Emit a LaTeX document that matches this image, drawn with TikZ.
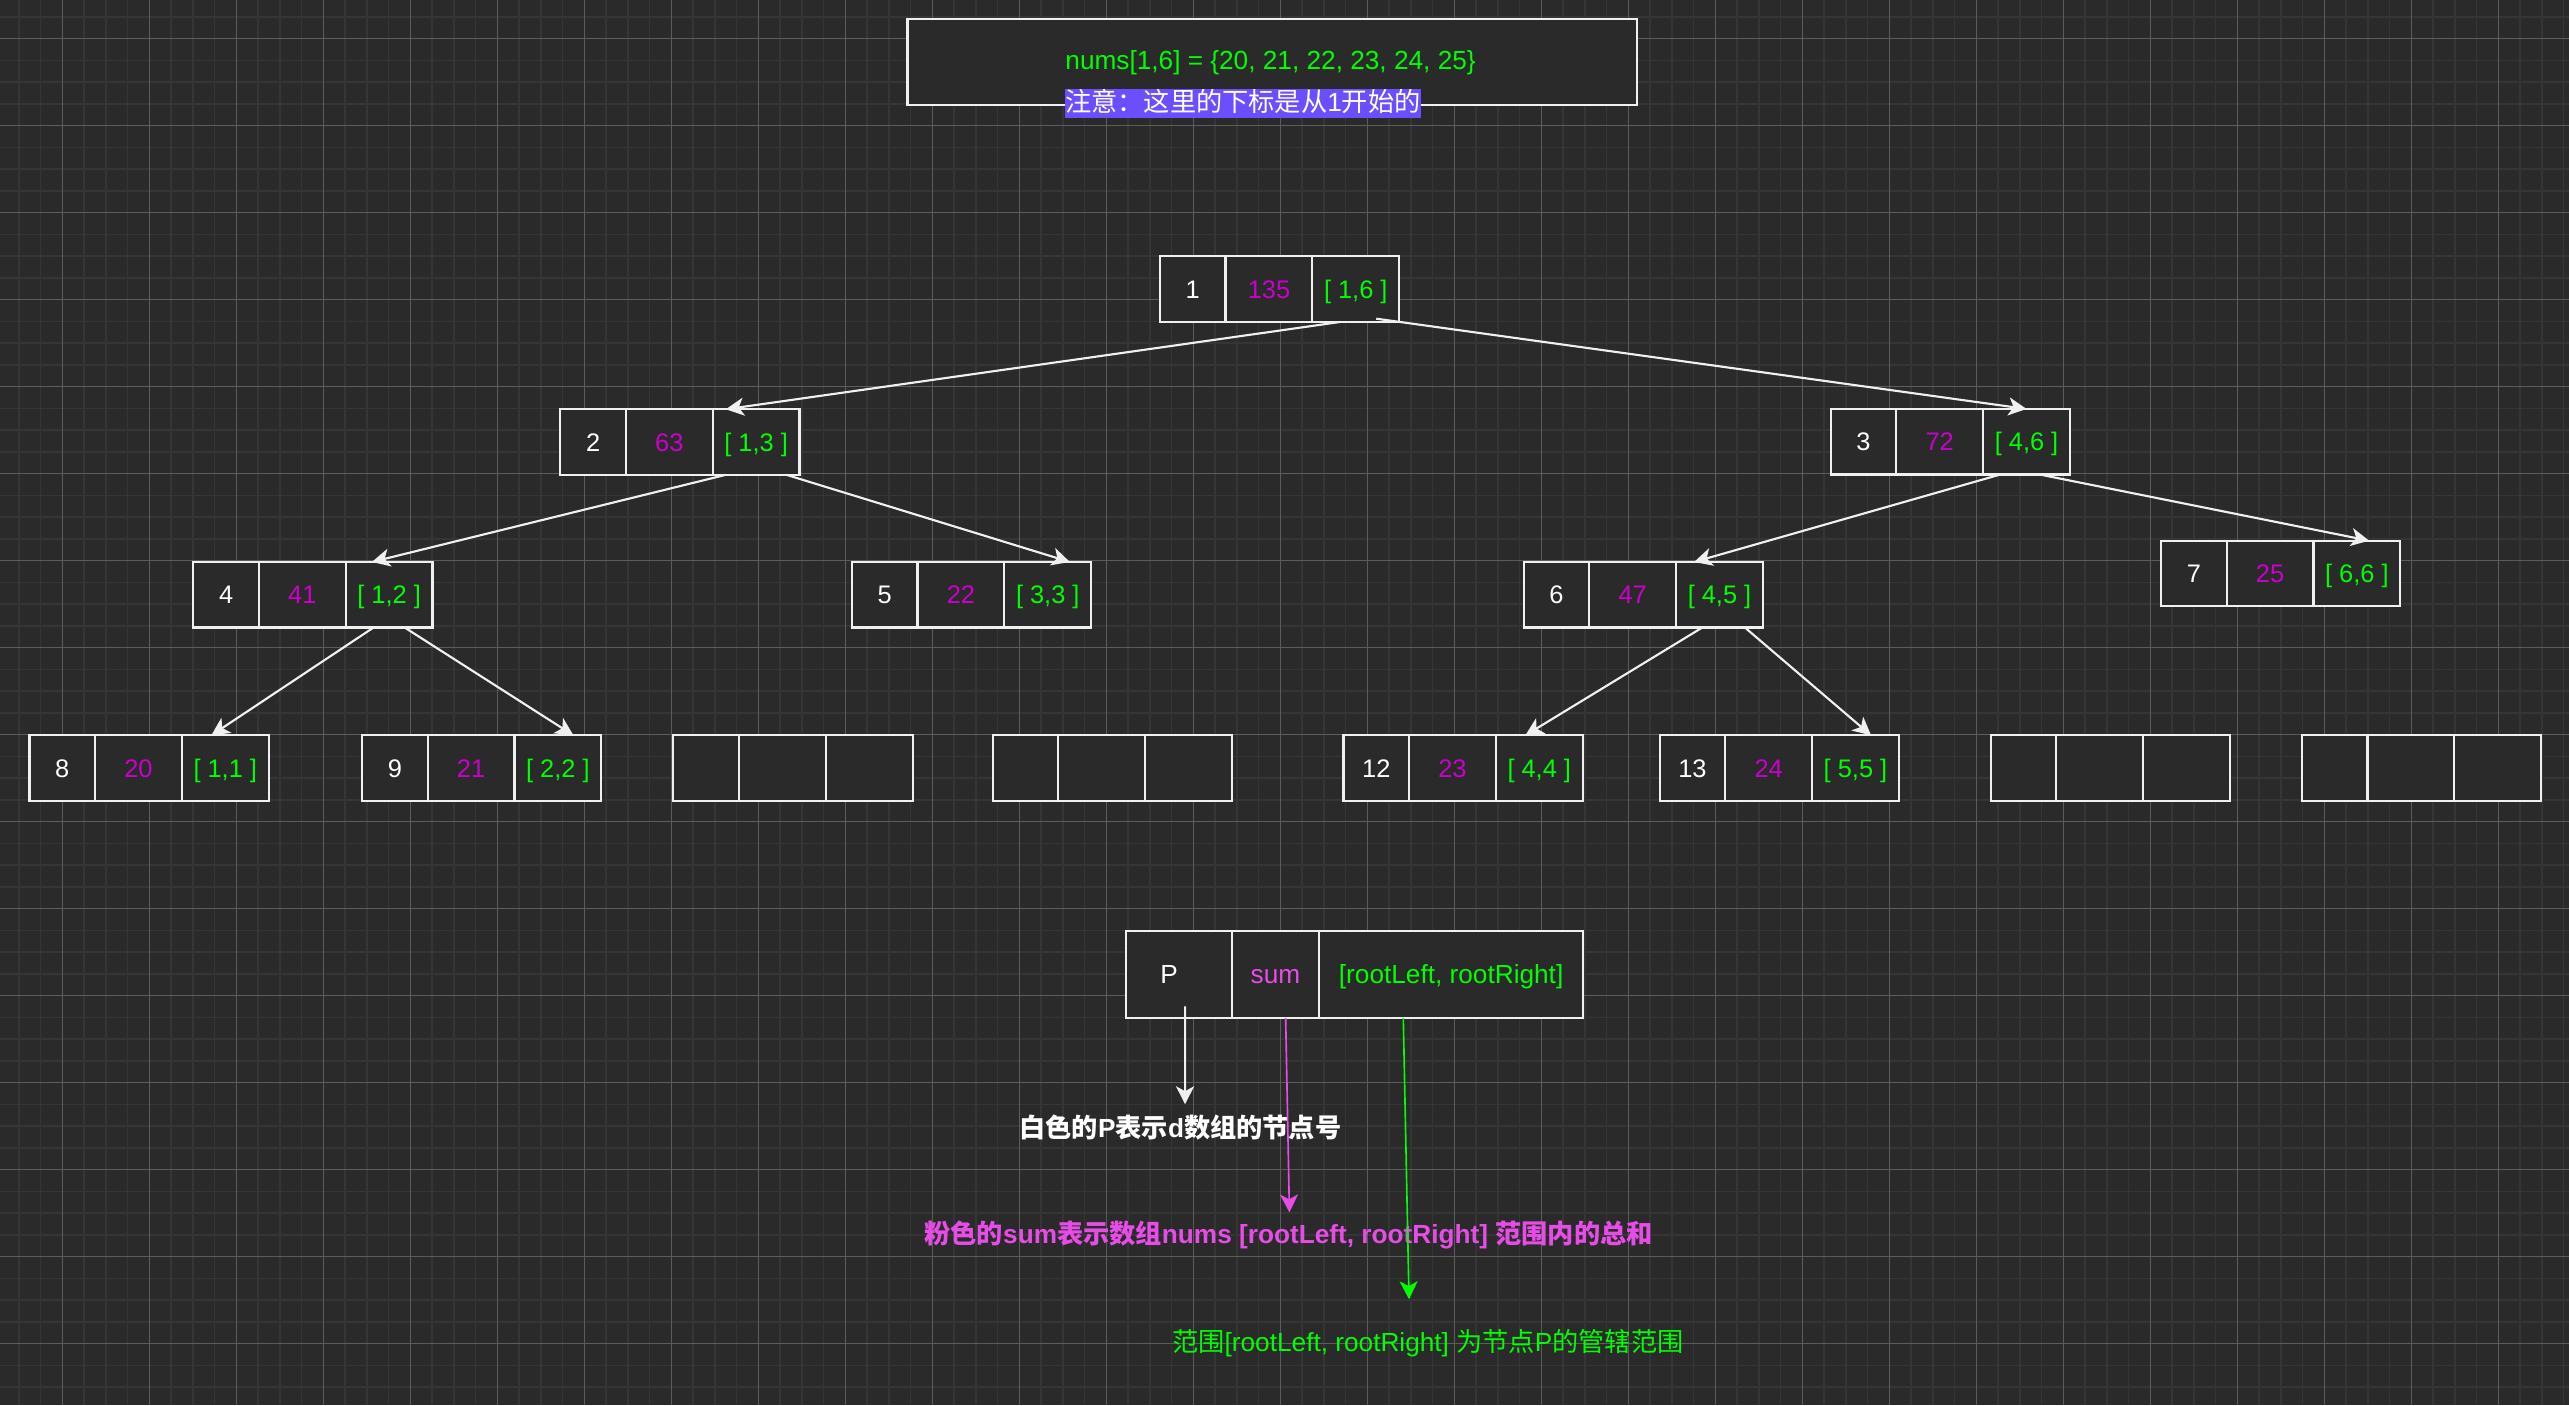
\documentclass[tikz,border=0pt]{standalone}
\usepackage{fontspec}
\setmainfont{Liberation Sans}
\newfontfamily\cjk{Noto Sans CJK SC}
\usetikzlibrary{arrows.meta}
\definecolor{bg}{HTML}{2A2A2A}
\definecolor{minorc}{HTML}{353535}
\definecolor{majorc}{HTML}{5C5C5C}
\definecolor{magv}{HTML}{CC00CC}
\definecolor{grn}{HTML}{00FF00}
\definecolor{pinkc}{HTML}{E64CE6}
\definecolor{hlc}{HTML}{6B4EFF}
\definecolor{linec}{HTML}{F0F0F0}
\newcommand\zh[1]{{\cjk #1}}
\tikzset{
  cellbase/.style={draw=linec, line width=1.3pt, fill=bg, minimum height=40pt,
    inner sep=0pt, outer sep=0pt, anchor=north west,
    text height=11.1pt, text depth=0pt, font=\fontsize{15.5pt}{18pt}\selectfont},
  cellA/.style={cellbase, minimum width=40pt, text=white},
  cellB/.style={cellbase, minimum width=53pt, text=magv},
  cellC/.style={cellbase, minimum width=53pt, text=grn},
  tarrow/.style={draw=linec, line width=1.3pt, -{Stealth[length=11pt,width=11pt,inset=3pt]}},
  minorg/.style={draw=minorc, line width=0.9pt},
  majorg/.style={draw=majorc, line width=0.6pt},
  lbl/.style={inner sep=0pt, font=\fontsize{16pt}{19pt}\selectfont},
}
\newcommand\tnode[6]{%
  \node[cellA] (#1a) at (#2,#3) {#4};
  \node[cellB] (#1b) at (#1a.north east) {#5};
  \node[cellC] (#1c) at (#1b.north east) {#6};
}
\begin{document}
\begin{tikzpicture}[x=1pt,y=-1pt]
\useasboundingbox (0,0) rectangle (1568,857.56);
\fill[bg] (0,0) rectangle (1568,857.56);
% grid
\foreach \k in {-2,...,115}{\draw[minorg] ({38.03+13.2752*\k},0) -- ({38.03+13.2752*\k},857.56);}
\foreach \k in {-1,...,63}{\draw[minorg] (0,{23.62+13.2752*\k}) -- (1568,{23.62+13.2752*\k});}
\foreach \k in {0,...,28}{\draw[majorg] ({38.03+53.1006*\k},0) -- ({38.03+53.1006*\k},857.56);}
\foreach \k in {0,...,15}{\draw[majorg] (0,{23.62+53.1006*\k}) -- (1568,{23.62+53.1006*\k});}

% title box
\node[draw=linec, line width=1.6pt, fill=bg, minimum width=445.5pt, minimum height=52.5pt, inner sep=0pt, anchor=north west] (title) at (552.9,10.8) {};
\node[lbl, text=grn, text height=11.5pt, text depth=0pt] (nums) at (775.5,36.5) {nums[1,6] = \{20, 21, 22, 23, 24, 25\}};
\node[lbl, text=white, fill=hlc, inner xsep=0pt, inner ysep=0.6pt, text height=13.2pt, text depth=3.5pt] (note) at (758.6,63.2) {\zh{注意：这里的下标是从}1\zh{开始的}};

% tree nodes
\tnode{n1}{708}{156.5}{1}{135}{[ 1,6 ]}
\tnode{n2}{342}{249.8}{2}{63}{[ 1,3 ]}
\tnode{n3}{1117.4}{249.6}{3}{72}{[ 4,6 ]}
\tnode{n4}{118}{343}{4}{41}{[ 1,2 ]}
\tnode{n5}{520}{343}{5}{22}{[ 3,3 ]}
\tnode{n6}{930}{343}{6}{47}{[ 4,5 ]}
\tnode{n7}{1319}{330}{7}{25}{[ 6,6 ]}
\tnode{n8}{18}{448.8}{8}{20}{[ 1,1 ]}
\tnode{n9}{221}{448.8}{9}{21}{[ 2,2 ]}
\tnode{e1}{411}{448.8}{}{}{}
\tnode{e2}{606}{448.8}{}{}{}
\tnode{n12}{820}{448.8}{12}{23}{[ 4,4 ]}
\tnode{n13}{1013}{448.8}{13}{24}{[ 5,5 ]}
\tnode{e3}{1215}{448.8}{}{}{}
\tnode{e4}{1405}{448.8}{}{}{}

% tree edges
\draw[tarrow] ([xshift=-9.5pt]n1c.south) -- ([xshift=-18.5pt]n2c.north);
\draw[tarrow] ([xshift=12.5pt,yshift=2pt]n1c.south) -- ([xshift=0pt]n3c.north);
\draw[tarrow] ([xshift=-18.5pt]n2c.south) -- ([xshift=-10.5pt]n4c.north);
\draw[tarrow] ([xshift=18.5pt]n2c.south) -- ([xshift=13.5pt]n5c.north);
\draw[tarrow] ([xshift=-16pt]n3c.south) -- ([xshift=-15.5pt]n6c.north);
\draw[tarrow] ([xshift=8pt]n3c.south) -- ([xshift=7.5pt]n7c.north);
\draw[tarrow] ([xshift=-9.5pt]n4c.south) -- ([xshift=-8.5pt]n8c.north);
\draw[tarrow] ([xshift=9.5pt]n4c.south) -- ([xshift=9.5pt]n9c.north);
\draw[tarrow] ([xshift=-10.5pt]n6c.south) -- ([xshift=-8.5pt]n12c.north);
\draw[tarrow] ([xshift=15.5pt]n6c.south) -- ([xshift=9.5pt]n13c.north);

% legend node
\node[cellbase, minimum width=64.8pt, minimum height=53pt, text=white, font=\fontsize{16pt}{19pt}\selectfont] (Pa) at (687.2,568.2) {P\kern12pt\relax};
\node[cellbase, minimum width=53pt, minimum height=53pt, text=pinkc, font=\fontsize{16pt}{19pt}\selectfont] (Pb) at (Pa.north east) {sum};
\node[cellbase, minimum width=161.4pt, minimum height=53pt, text=grn, font=\fontsize{16pt}{19pt}\selectfont] (Pc) at (Pb.north east) {[rootLeft, rootRight]};

% legend labels
\node[lbl, text=white, font=\fontsize{16pt}{19pt}\selectfont\bfseries] (lw) at (720.5,688) {\zh{白色的}P\zh{表示}d\zh{数组的节点号}};
\node[lbl, text=pinkc, font=\fontsize{16pt}{19pt}\selectfont\bfseries] (lp) at (786.5,754) {\zh{粉色的}sum\zh{表示数组}nums [rootLeft, rootRight] \zh{范围内的总和}};
\node[lbl, text=grn] (lg) at (871.5,820) {\zh{范围}[rootLeft, rootRight] \zh{为节点}P\zh{的管辖范围}};

\coordinate (wEnd) at (723.3,674);
\coordinate (pEnd) at (787,740);
\coordinate (gEnd) at (860,793);
\draw[tarrow] ([xshift=3.7pt,yshift=7pt]Pa.south) -- (wEnd);
\draw[tarrow, draw=pinkc, line width=1pt] ([xshift=6.2pt]Pb.south) -- (pEnd);
\draw[tarrow, draw=grn, line width=1pt] ([xshift=-29.2pt]Pc.south) -- (gEnd);
\end{tikzpicture}
\end{document}
